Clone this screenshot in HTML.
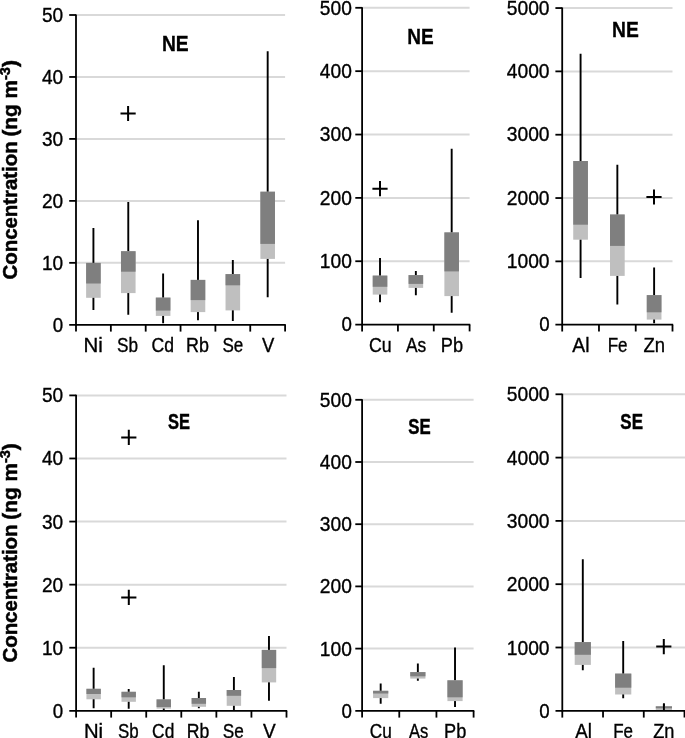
<!DOCTYPE html>
<html lang="en"><head><meta charset="utf-8"><title>Concentration box plots NE / SE</title>
<style>
html,body{margin:0;padding:0;background:#fff;overflow:hidden}
svg{display:block;will-change:transform;font-kerning:none;font-family:"Liberation Sans",sans-serif;fill:#000}
</style></head><body>
<svg width="685" height="738" viewBox="0 0 685 738">
<rect x="0" y="0" width="685" height="738" fill="#fff"/>
<line x1="76.0" y1="262.84" x2="285.10" y2="262.84" stroke="#d9d9d9" stroke-width="2.0"/>
<line x1="76.0" y1="200.88" x2="285.10" y2="200.88" stroke="#d9d9d9" stroke-width="2.0"/>
<line x1="76.0" y1="138.92" x2="285.10" y2="138.92" stroke="#d9d9d9" stroke-width="2.0"/>
<line x1="76.0" y1="76.96" x2="285.10" y2="76.96" stroke="#d9d9d9" stroke-width="2.0"/>
<line x1="76.0" y1="15.00" x2="285.10" y2="15.00" stroke="#d9d9d9" stroke-width="2.0"/>
<path d="M93.42 228.10V263.40M93.42 297.30V310.00" stroke="#000" stroke-width="1.9" fill="none"/>
<rect x="86.12" y="262.90" width="14.60" height="34.90" fill="#bfbfbf"/>
<rect x="86.12" y="262.90" width="14.60" height="20.60" fill="#7f7f7f"/>
<path d="M128.28 202.00V251.70M128.28 292.60V314.70" stroke="#000" stroke-width="1.9" fill="none"/>
<rect x="120.98" y="251.20" width="14.60" height="41.90" fill="#bfbfbf"/>
<rect x="120.98" y="251.20" width="14.60" height="20.50" fill="#7f7f7f"/>
<path d="M163.12 273.60V298.10M163.12 315.40V323.20" stroke="#000" stroke-width="1.9" fill="none"/>
<rect x="155.82" y="297.60" width="14.60" height="18.30" fill="#bfbfbf"/>
<rect x="155.82" y="297.60" width="14.60" height="13.00" fill="#7f7f7f"/>
<path d="M197.98 220.20V280.40M197.98 311.60V320.20" stroke="#000" stroke-width="1.9" fill="none"/>
<rect x="190.68" y="279.90" width="14.60" height="32.20" fill="#bfbfbf"/>
<rect x="190.68" y="279.90" width="14.60" height="20.20" fill="#7f7f7f"/>
<path d="M232.83 259.90V274.60M232.83 309.90V320.90" stroke="#000" stroke-width="1.9" fill="none"/>
<rect x="225.53" y="274.10" width="14.60" height="36.30" fill="#bfbfbf"/>
<rect x="225.53" y="274.10" width="14.60" height="11.20" fill="#7f7f7f"/>
<path d="M267.68 51.20V192.20M267.68 258.40V297.20" stroke="#000" stroke-width="1.9" fill="none"/>
<rect x="260.38" y="191.70" width="14.60" height="67.20" fill="#bfbfbf"/>
<rect x="260.38" y="191.70" width="14.60" height="52.20" fill="#7f7f7f"/>
<path d="M120.50 113.50H135.70M128.10 105.90V121.10" stroke="#000" stroke-width="2.0" fill="none"/>
<line x1="76.0" y1="14.40" x2="76.0" y2="325.45" stroke="#000" stroke-width="1.8"/>
<line x1="69.2" y1="324.80" x2="285.75" y2="324.80" stroke="#000" stroke-width="1.8"/>
<line x1="69.2" y1="262.84" x2="76.0" y2="262.84" stroke="#000" stroke-width="1.8"/>
<line x1="69.2" y1="200.88" x2="76.0" y2="200.88" stroke="#000" stroke-width="1.8"/>
<line x1="69.2" y1="138.92" x2="76.0" y2="138.92" stroke="#000" stroke-width="1.8"/>
<line x1="69.2" y1="76.96" x2="76.0" y2="76.96" stroke="#000" stroke-width="1.8"/>
<line x1="69.2" y1="15.00" x2="76.0" y2="15.00" stroke="#000" stroke-width="1.8"/>
<line x1="76.00" y1="324.80" x2="76.00" y2="331.60" stroke="#000" stroke-width="1.8"/>
<line x1="110.85" y1="324.80" x2="110.85" y2="331.60" stroke="#000" stroke-width="1.8"/>
<line x1="145.70" y1="324.80" x2="145.70" y2="331.60" stroke="#000" stroke-width="1.8"/>
<line x1="180.55" y1="324.80" x2="180.55" y2="331.60" stroke="#000" stroke-width="1.8"/>
<line x1="215.40" y1="324.80" x2="215.40" y2="331.60" stroke="#000" stroke-width="1.8"/>
<line x1="250.25" y1="324.80" x2="250.25" y2="331.60" stroke="#000" stroke-width="1.8"/>
<line x1="285.10" y1="324.80" x2="285.10" y2="331.60" stroke="#000" stroke-width="1.8"/>
<text transform="translate(52.75,331.50) scale(0.9367,1)" font-size="20.0" stroke="#000" stroke-width="0.35">0</text>
<text transform="translate(41.95,269.54) scale(0.9542,1)" font-size="20.0" stroke="#000" stroke-width="0.35">10</text>
<text transform="translate(41.94,207.58) scale(0.9546,1)" font-size="20.0" stroke="#000" stroke-width="0.35">20</text>
<text transform="translate(41.94,145.62) scale(0.9548,1)" font-size="20.0" stroke="#000" stroke-width="0.35">30</text>
<text transform="translate(41.93,83.66) scale(0.9550,1)" font-size="20.0" stroke="#000" stroke-width="0.35">40</text>
<text transform="translate(41.94,21.70) scale(0.9548,1)" font-size="20.0" stroke="#000" stroke-width="0.35">50</text>
<text transform="translate(83.55,351.50) scale(1.0216,1)" font-size="20.0" stroke="#000" stroke-width="0.35">Ni</text>
<text transform="translate(117.02,351.50) scale(0.8584,1)" font-size="20.0" stroke="#000" stroke-width="0.35">Sb</text>
<text transform="translate(151.61,351.50) scale(0.8809,1)" font-size="20.0" stroke="#000" stroke-width="0.35">Cd</text>
<text transform="translate(186.04,351.50) scale(0.8961,1)" font-size="20.0" stroke="#000" stroke-width="0.35">Rb</text>
<text transform="translate(222.43,351.50) scale(0.8516,1)" font-size="20.0" stroke="#000" stroke-width="0.35">Se</text>
<text transform="translate(261.93,351.50) scale(0.9250,1)" font-size="20.0" stroke="#000" stroke-width="0.35">V</text>
<text transform="translate(161.90,51.20) scale(0.8964,1)" font-size="21.5" font-weight="700" stroke="#000" stroke-width="0.3">NE</text>
<line x1="362.1" y1="261.24" x2="469.60" y2="261.24" stroke="#d9d9d9" stroke-width="2.0"/>
<line x1="362.1" y1="197.88" x2="469.60" y2="197.88" stroke="#d9d9d9" stroke-width="2.0"/>
<line x1="362.1" y1="134.52" x2="469.60" y2="134.52" stroke="#d9d9d9" stroke-width="2.0"/>
<line x1="362.1" y1="71.16" x2="469.60" y2="71.16" stroke="#d9d9d9" stroke-width="2.0"/>
<line x1="362.1" y1="7.80" x2="469.60" y2="7.80" stroke="#d9d9d9" stroke-width="2.0"/>
<path d="M380.02 258.10V276.10M380.02 294.10V302.20" stroke="#000" stroke-width="1.9" fill="none"/>
<rect x="372.72" y="275.60" width="14.60" height="19.00" fill="#bfbfbf"/>
<rect x="372.72" y="275.60" width="14.60" height="11.20" fill="#7f7f7f"/>
<path d="M415.85 271.10V275.60M415.85 287.40V295.20" stroke="#000" stroke-width="1.9" fill="none"/>
<rect x="408.55" y="275.10" width="14.60" height="12.80" fill="#bfbfbf"/>
<rect x="408.55" y="275.10" width="14.60" height="8.80" fill="#7f7f7f"/>
<path d="M451.68 148.80V232.90M451.68 295.60V312.70" stroke="#000" stroke-width="1.9" fill="none"/>
<rect x="444.38" y="232.40" width="14.60" height="63.70" fill="#bfbfbf"/>
<rect x="444.38" y="232.40" width="14.60" height="39.00" fill="#7f7f7f"/>
<path d="M372.40 188.70H387.60M380.00 181.10V196.30" stroke="#000" stroke-width="2.0" fill="none"/>
<line x1="362.1" y1="7.20" x2="362.1" y2="325.25" stroke="#000" stroke-width="1.8"/>
<line x1="355.3" y1="324.60" x2="470.25" y2="324.60" stroke="#000" stroke-width="1.8"/>
<line x1="355.3" y1="261.24" x2="362.1" y2="261.24" stroke="#000" stroke-width="1.8"/>
<line x1="355.3" y1="197.88" x2="362.1" y2="197.88" stroke="#000" stroke-width="1.8"/>
<line x1="355.3" y1="134.52" x2="362.1" y2="134.52" stroke="#000" stroke-width="1.8"/>
<line x1="355.3" y1="71.16" x2="362.1" y2="71.16" stroke="#000" stroke-width="1.8"/>
<line x1="355.3" y1="7.80" x2="362.1" y2="7.80" stroke="#000" stroke-width="1.8"/>
<line x1="362.10" y1="324.60" x2="362.10" y2="331.40" stroke="#000" stroke-width="1.8"/>
<line x1="397.93" y1="324.60" x2="397.93" y2="331.40" stroke="#000" stroke-width="1.8"/>
<line x1="433.77" y1="324.60" x2="433.77" y2="331.40" stroke="#000" stroke-width="1.8"/>
<line x1="469.60" y1="324.60" x2="469.60" y2="331.40" stroke="#000" stroke-width="1.8"/>
<text transform="translate(341.45,331.30) scale(0.9367,1)" font-size="20.0" stroke="#000" stroke-width="0.35">0</text>
<text transform="translate(319.84,267.94) scale(0.9601,1)" font-size="20.0" stroke="#000" stroke-width="0.35">100</text>
<text transform="translate(319.84,204.58) scale(0.9603,1)" font-size="20.0" stroke="#000" stroke-width="0.35">200</text>
<text transform="translate(319.83,141.22) scale(0.9604,1)" font-size="20.0" stroke="#000" stroke-width="0.35">300</text>
<text transform="translate(319.83,77.86) scale(0.9605,1)" font-size="20.0" stroke="#000" stroke-width="0.35">400</text>
<text transform="translate(319.84,14.50) scale(0.9604,1)" font-size="20.0" stroke="#000" stroke-width="0.35">500</text>
<text transform="translate(368.90,351.50) scale(0.8866,1)" font-size="20.0" stroke="#000" stroke-width="0.35">Cu</text>
<text transform="translate(405.97,351.50) scale(0.8679,1)" font-size="20.0" stroke="#000" stroke-width="0.35">As</text>
<text transform="translate(440.82,351.50) scale(0.9090,1)" font-size="20.0" stroke="#000" stroke-width="0.35">Pb</text>
<text transform="translate(407.31,44.40) scale(0.8857,1)" font-size="21.5" font-weight="700" stroke="#000" stroke-width="0.3">NE</text>
<line x1="562.2" y1="261.37" x2="672.50" y2="261.37" stroke="#d9d9d9" stroke-width="2.0"/>
<line x1="562.2" y1="198.04" x2="672.50" y2="198.04" stroke="#d9d9d9" stroke-width="2.0"/>
<line x1="562.2" y1="134.71" x2="672.50" y2="134.71" stroke="#d9d9d9" stroke-width="2.0"/>
<line x1="562.2" y1="71.38" x2="672.50" y2="71.38" stroke="#d9d9d9" stroke-width="2.0"/>
<line x1="562.2" y1="8.05" x2="672.50" y2="8.05" stroke="#d9d9d9" stroke-width="2.0"/>
<path d="M580.58 53.70V161.50M580.58 239.20V278.00" stroke="#000" stroke-width="1.9" fill="none"/>
<rect x="573.23" y="161.00" width="14.70" height="78.70" fill="#bfbfbf"/>
<rect x="573.23" y="161.00" width="14.70" height="63.70" fill="#7f7f7f"/>
<path d="M617.35 164.80V215.00M617.35 275.40V304.50" stroke="#000" stroke-width="1.9" fill="none"/>
<rect x="610.00" y="214.50" width="14.70" height="61.40" fill="#bfbfbf"/>
<rect x="610.00" y="214.50" width="14.70" height="31.40" fill="#7f7f7f"/>
<path d="M654.12 267.40V295.60M654.12 319.10V323.20" stroke="#000" stroke-width="1.9" fill="none"/>
<rect x="646.77" y="295.10" width="14.70" height="24.50" fill="#bfbfbf"/>
<rect x="646.77" y="295.10" width="14.70" height="17.20" fill="#7f7f7f"/>
<path d="M646.40 197.00H661.60M654.00 189.40V204.60" stroke="#000" stroke-width="2.0" fill="none"/>
<line x1="562.2" y1="7.45" x2="562.2" y2="325.35" stroke="#000" stroke-width="1.8"/>
<line x1="555.4000000000001" y1="324.70" x2="673.15" y2="324.70" stroke="#000" stroke-width="1.8"/>
<line x1="555.4000000000001" y1="261.37" x2="562.2" y2="261.37" stroke="#000" stroke-width="1.8"/>
<line x1="555.4000000000001" y1="198.04" x2="562.2" y2="198.04" stroke="#000" stroke-width="1.8"/>
<line x1="555.4000000000001" y1="134.71" x2="562.2" y2="134.71" stroke="#000" stroke-width="1.8"/>
<line x1="555.4000000000001" y1="71.38" x2="562.2" y2="71.38" stroke="#000" stroke-width="1.8"/>
<line x1="555.4000000000001" y1="8.05" x2="562.2" y2="8.05" stroke="#000" stroke-width="1.8"/>
<line x1="562.20" y1="324.70" x2="562.20" y2="331.50" stroke="#000" stroke-width="1.8"/>
<line x1="598.97" y1="324.70" x2="598.97" y2="331.50" stroke="#000" stroke-width="1.8"/>
<line x1="635.73" y1="324.70" x2="635.73" y2="331.50" stroke="#000" stroke-width="1.8"/>
<line x1="672.50" y1="324.70" x2="672.50" y2="331.50" stroke="#000" stroke-width="1.8"/>
<text transform="translate(539.15,331.40) scale(0.9367,1)" font-size="20.0" stroke="#000" stroke-width="0.35">0</text>
<text transform="translate(506.74,268.07) scale(0.9630,1)" font-size="20.0" stroke="#000" stroke-width="0.35">1000</text>
<text transform="translate(506.74,204.74) scale(0.9631,1)" font-size="20.0" stroke="#000" stroke-width="0.35">2000</text>
<text transform="translate(506.73,141.41) scale(0.9631,1)" font-size="20.0" stroke="#000" stroke-width="0.35">3000</text>
<text transform="translate(506.73,78.08) scale(0.9632,1)" font-size="20.0" stroke="#000" stroke-width="0.35">4000</text>
<text transform="translate(506.73,14.75) scale(0.9631,1)" font-size="20.0" stroke="#000" stroke-width="0.35">5000</text>
<text transform="translate(572.28,351.50) scale(0.9668,1)" font-size="20.0" stroke="#000" stroke-width="0.35">Al</text>
<text transform="translate(607.70,351.50) scale(0.8506,1)" font-size="20.0" stroke="#000" stroke-width="0.35">Fe</text>
<text transform="translate(643.43,351.50) scale(0.9239,1)" font-size="20.0" stroke="#000" stroke-width="0.35">Zn</text>
<text transform="translate(612.10,37.40) scale(0.8964,1)" font-size="21.5" font-weight="700" stroke="#000" stroke-width="0.3">NE</text>
<line x1="76.1" y1="647.72" x2="286.50" y2="647.72" stroke="#d9d9d9" stroke-width="2.0"/>
<line x1="76.1" y1="584.64" x2="286.50" y2="584.64" stroke="#d9d9d9" stroke-width="2.0"/>
<line x1="76.1" y1="521.56" x2="286.50" y2="521.56" stroke="#d9d9d9" stroke-width="2.0"/>
<line x1="76.1" y1="458.48" x2="286.50" y2="458.48" stroke="#d9d9d9" stroke-width="2.0"/>
<line x1="76.1" y1="395.40" x2="286.50" y2="395.40" stroke="#d9d9d9" stroke-width="2.0"/>
<path d="M93.63 667.80V689.30M93.63 698.80V708.20" stroke="#000" stroke-width="1.9" fill="none"/>
<rect x="86.43" y="688.80" width="14.40" height="10.50" fill="#bfbfbf"/>
<rect x="86.43" y="688.80" width="14.40" height="5.20" fill="#7f7f7f"/>
<path d="M128.70 689.00V692.30M128.70 701.30V708.70" stroke="#000" stroke-width="1.9" fill="none"/>
<rect x="121.50" y="691.80" width="14.40" height="10.00" fill="#bfbfbf"/>
<rect x="121.50" y="691.80" width="14.40" height="5.50" fill="#7f7f7f"/>
<path d="M163.77 665.30V699.90M163.77 708.10V710.20" stroke="#000" stroke-width="1.9" fill="none"/>
<rect x="156.57" y="699.40" width="14.40" height="9.20" fill="#bfbfbf"/>
<rect x="156.57" y="699.40" width="14.40" height="7.60" fill="#7f7f7f"/>
<path d="M198.83 691.80V698.50M198.83 706.30V708.20" stroke="#000" stroke-width="1.9" fill="none"/>
<rect x="191.63" y="698.00" width="14.40" height="8.80" fill="#bfbfbf"/>
<rect x="191.63" y="698.00" width="14.40" height="5.80" fill="#7f7f7f"/>
<path d="M233.90 677.10V690.50M233.90 705.30V709.90" stroke="#000" stroke-width="1.9" fill="none"/>
<rect x="226.70" y="690.00" width="14.40" height="15.80" fill="#bfbfbf"/>
<rect x="226.70" y="690.00" width="14.40" height="5.80" fill="#7f7f7f"/>
<path d="M268.97 635.90V650.40M268.97 681.90V700.70" stroke="#000" stroke-width="1.9" fill="none"/>
<rect x="261.77" y="649.90" width="14.40" height="32.50" fill="#bfbfbf"/>
<rect x="261.77" y="649.90" width="14.40" height="18.20" fill="#7f7f7f"/>
<path d="M121.20 437.40H136.40M128.80 429.80V445.00" stroke="#000" stroke-width="2.0" fill="none"/>
<path d="M121.20 597.40H136.40M128.80 589.80V605.00" stroke="#000" stroke-width="2.0" fill="none"/>
<line x1="76.1" y1="394.80" x2="76.1" y2="711.45" stroke="#000" stroke-width="1.8"/>
<line x1="69.3" y1="710.80" x2="287.15" y2="710.80" stroke="#000" stroke-width="1.8"/>
<line x1="69.3" y1="647.72" x2="76.1" y2="647.72" stroke="#000" stroke-width="1.8"/>
<line x1="69.3" y1="584.64" x2="76.1" y2="584.64" stroke="#000" stroke-width="1.8"/>
<line x1="69.3" y1="521.56" x2="76.1" y2="521.56" stroke="#000" stroke-width="1.8"/>
<line x1="69.3" y1="458.48" x2="76.1" y2="458.48" stroke="#000" stroke-width="1.8"/>
<line x1="69.3" y1="395.40" x2="76.1" y2="395.40" stroke="#000" stroke-width="1.8"/>
<line x1="76.10" y1="710.80" x2="76.10" y2="717.60" stroke="#000" stroke-width="1.8"/>
<line x1="111.17" y1="710.80" x2="111.17" y2="717.60" stroke="#000" stroke-width="1.8"/>
<line x1="146.23" y1="710.80" x2="146.23" y2="717.60" stroke="#000" stroke-width="1.8"/>
<line x1="181.30" y1="710.80" x2="181.30" y2="717.60" stroke="#000" stroke-width="1.8"/>
<line x1="216.37" y1="710.80" x2="216.37" y2="717.60" stroke="#000" stroke-width="1.8"/>
<line x1="251.43" y1="710.80" x2="251.43" y2="717.60" stroke="#000" stroke-width="1.8"/>
<line x1="286.50" y1="710.80" x2="286.50" y2="717.60" stroke="#000" stroke-width="1.8"/>
<text transform="translate(52.75,717.80) scale(0.9367,1)" font-size="20.0" stroke="#000" stroke-width="0.35">0</text>
<text transform="translate(41.95,654.72) scale(0.9542,1)" font-size="20.0" stroke="#000" stroke-width="0.35">10</text>
<text transform="translate(41.94,591.64) scale(0.9546,1)" font-size="20.0" stroke="#000" stroke-width="0.35">20</text>
<text transform="translate(41.94,528.56) scale(0.9548,1)" font-size="20.0" stroke="#000" stroke-width="0.35">30</text>
<text transform="translate(41.93,465.48) scale(0.9550,1)" font-size="20.0" stroke="#000" stroke-width="0.35">40</text>
<text transform="translate(41.94,402.40) scale(0.9548,1)" font-size="20.0" stroke="#000" stroke-width="0.35">50</text>
<text transform="translate(83.96,737.90) scale(1.0155,1)" font-size="20.0" stroke="#000" stroke-width="0.35">Ni</text>
<text transform="translate(118.03,737.90) scale(0.8454,1)" font-size="20.0" stroke="#000" stroke-width="0.35">Sb</text>
<text transform="translate(152.12,737.90) scale(0.8682,1)" font-size="20.0" stroke="#000" stroke-width="0.35">Cd</text>
<text transform="translate(186.76,737.90) scale(0.8833,1)" font-size="20.0" stroke="#000" stroke-width="0.35">Rb</text>
<text transform="translate(222.82,737.90) scale(0.8603,1)" font-size="20.0" stroke="#000" stroke-width="0.35">Se</text>
<text transform="translate(262.93,737.90) scale(0.9546,1)" font-size="20.0" stroke="#000" stroke-width="0.35">V</text>
<text transform="translate(168.05,429.30) scale(0.7661,1)" font-size="21.5" font-weight="700" stroke="#000" stroke-width="0.45">SE</text>
<line x1="362.1" y1="648.60" x2="473.60" y2="648.60" stroke="#d9d9d9" stroke-width="2.0"/>
<line x1="362.1" y1="586.40" x2="473.60" y2="586.40" stroke="#d9d9d9" stroke-width="2.0"/>
<line x1="362.1" y1="524.20" x2="473.60" y2="524.20" stroke="#d9d9d9" stroke-width="2.0"/>
<line x1="362.1" y1="462.00" x2="473.60" y2="462.00" stroke="#d9d9d9" stroke-width="2.0"/>
<line x1="362.1" y1="399.80" x2="473.60" y2="399.80" stroke="#d9d9d9" stroke-width="2.0"/>
<path d="M380.68 683.60V691.30M380.68 697.60V703.70" stroke="#000" stroke-width="1.9" fill="none"/>
<rect x="373.08" y="690.80" width="15.20" height="7.30" fill="#bfbfbf"/>
<rect x="373.08" y="690.80" width="15.20" height="2.70" fill="#7f7f7f"/>
<path d="M417.85 663.60V672.60M417.85 678.10V680.70" stroke="#000" stroke-width="1.9" fill="none"/>
<rect x="410.25" y="672.10" width="15.20" height="6.50" fill="#bfbfbf"/>
<rect x="410.25" y="672.10" width="15.20" height="4.20" fill="#7f7f7f"/>
<path d="M455.02 647.40V680.80M455.02 700.60V706.90" stroke="#000" stroke-width="1.9" fill="none"/>
<rect x="447.42" y="680.30" width="15.20" height="20.80" fill="#bfbfbf"/>
<rect x="447.42" y="680.30" width="15.20" height="17.00" fill="#7f7f7f"/>
<line x1="362.1" y1="399.20" x2="362.1" y2="711.45" stroke="#000" stroke-width="1.8"/>
<line x1="355.3" y1="710.80" x2="474.25" y2="710.80" stroke="#000" stroke-width="1.8"/>
<line x1="355.3" y1="648.60" x2="362.1" y2="648.60" stroke="#000" stroke-width="1.8"/>
<line x1="355.3" y1="586.40" x2="362.1" y2="586.40" stroke="#000" stroke-width="1.8"/>
<line x1="355.3" y1="524.20" x2="362.1" y2="524.20" stroke="#000" stroke-width="1.8"/>
<line x1="355.3" y1="462.00" x2="362.1" y2="462.00" stroke="#000" stroke-width="1.8"/>
<line x1="355.3" y1="399.80" x2="362.1" y2="399.80" stroke="#000" stroke-width="1.8"/>
<line x1="362.10" y1="710.80" x2="362.10" y2="717.60" stroke="#000" stroke-width="1.8"/>
<line x1="399.27" y1="710.80" x2="399.27" y2="717.60" stroke="#000" stroke-width="1.8"/>
<line x1="436.43" y1="710.80" x2="436.43" y2="717.60" stroke="#000" stroke-width="1.8"/>
<line x1="473.60" y1="710.80" x2="473.60" y2="717.60" stroke="#000" stroke-width="1.8"/>
<text transform="translate(341.45,717.80) scale(0.9367,1)" font-size="20.0" stroke="#000" stroke-width="0.35">0</text>
<text transform="translate(319.84,655.60) scale(0.9601,1)" font-size="20.0" stroke="#000" stroke-width="0.35">100</text>
<text transform="translate(319.84,593.40) scale(0.9603,1)" font-size="20.0" stroke="#000" stroke-width="0.35">200</text>
<text transform="translate(319.83,531.20) scale(0.9604,1)" font-size="20.0" stroke="#000" stroke-width="0.35">300</text>
<text transform="translate(319.83,469.00) scale(0.9605,1)" font-size="20.0" stroke="#000" stroke-width="0.35">400</text>
<text transform="translate(319.84,406.80) scale(0.9604,1)" font-size="20.0" stroke="#000" stroke-width="0.35">500</text>
<text transform="translate(369.73,737.90) scale(0.8612,1)" font-size="20.0" stroke="#000" stroke-width="0.35">Cu</text>
<text transform="translate(409.06,737.90) scale(0.8287,1)" font-size="20.0" stroke="#000" stroke-width="0.35">As</text>
<text transform="translate(444.02,737.90) scale(0.9090,1)" font-size="20.0" stroke="#000" stroke-width="0.35">Pb</text>
<text transform="translate(408.34,434.40) scale(0.7806,1)" font-size="21.5" font-weight="700" stroke="#000" stroke-width="0.45">SE</text>
<line x1="562.3" y1="647.50" x2="686.00" y2="647.50" stroke="#d9d9d9" stroke-width="2.0"/>
<line x1="562.3" y1="584.20" x2="686.00" y2="584.20" stroke="#d9d9d9" stroke-width="2.0"/>
<line x1="562.3" y1="520.90" x2="686.00" y2="520.90" stroke="#d9d9d9" stroke-width="2.0"/>
<line x1="562.3" y1="457.60" x2="686.00" y2="457.60" stroke="#d9d9d9" stroke-width="2.0"/>
<line x1="562.3" y1="394.30" x2="686.00" y2="394.30" stroke="#d9d9d9" stroke-width="2.0"/>
<path d="M582.80 559.20V642.60M582.80 664.40V670.20" stroke="#000" stroke-width="1.9" fill="none"/>
<rect x="574.70" y="642.10" width="16.20" height="22.80" fill="#bfbfbf"/>
<rect x="574.70" y="642.10" width="16.20" height="12.70" fill="#7f7f7f"/>
<path d="M623.20 640.90V674.10M623.20 694.00V698.20" stroke="#000" stroke-width="1.9" fill="none"/>
<rect x="615.10" y="673.60" width="16.20" height="20.90" fill="#bfbfbf"/>
<rect x="615.10" y="673.60" width="16.20" height="14.10" fill="#7f7f7f"/>
<path d="M663.90 703.50V706.80M663.90 709.60V710.40" stroke="#000" stroke-width="1.9" fill="none"/>
<rect x="655.80" y="706.30" width="16.20" height="3.80" fill="#bfbfbf"/>
<rect x="655.80" y="706.30" width="16.20" height="2.00" fill="#7f7f7f"/>
<path d="M663.90 703.50V710.40" stroke="#000" stroke-width="1.9" fill="none"/>
<path d="M656.20 646.60H671.40M663.80 639.00V654.20" stroke="#000" stroke-width="2.0" fill="none"/>
<line x1="562.3" y1="393.70" x2="562.3" y2="711.45" stroke="#000" stroke-width="1.8"/>
<line x1="555.5" y1="710.80" x2="686.65" y2="710.80" stroke="#000" stroke-width="1.8"/>
<line x1="555.5" y1="647.50" x2="562.3" y2="647.50" stroke="#000" stroke-width="1.8"/>
<line x1="555.5" y1="584.20" x2="562.3" y2="584.20" stroke="#000" stroke-width="1.8"/>
<line x1="555.5" y1="520.90" x2="562.3" y2="520.90" stroke="#000" stroke-width="1.8"/>
<line x1="555.5" y1="457.60" x2="562.3" y2="457.60" stroke="#000" stroke-width="1.8"/>
<line x1="555.5" y1="394.30" x2="562.3" y2="394.30" stroke="#000" stroke-width="1.8"/>
<line x1="562.30" y1="710.80" x2="562.30" y2="717.60" stroke="#000" stroke-width="1.8"/>
<line x1="603.03" y1="710.80" x2="603.03" y2="717.60" stroke="#000" stroke-width="1.8"/>
<line x1="643.77" y1="710.80" x2="643.77" y2="717.60" stroke="#000" stroke-width="1.8"/>
<line x1="684.50" y1="710.80" x2="684.50" y2="717.60" stroke="#000" stroke-width="1.8"/>
<text transform="translate(539.15,717.80) scale(0.9367,1)" font-size="20.0" stroke="#000" stroke-width="0.35">0</text>
<text transform="translate(506.74,654.50) scale(0.9630,1)" font-size="20.0" stroke="#000" stroke-width="0.35">1000</text>
<text transform="translate(506.74,591.20) scale(0.9631,1)" font-size="20.0" stroke="#000" stroke-width="0.35">2000</text>
<text transform="translate(506.73,527.90) scale(0.9631,1)" font-size="20.0" stroke="#000" stroke-width="0.35">3000</text>
<text transform="translate(506.73,464.60) scale(0.9632,1)" font-size="20.0" stroke="#000" stroke-width="0.35">4000</text>
<text transform="translate(506.73,401.30) scale(0.9631,1)" font-size="20.0" stroke="#000" stroke-width="0.35">5000</text>
<text transform="translate(575.18,737.90) scale(0.9370,1)" font-size="20.0" stroke="#000" stroke-width="0.35">Al</text>
<text transform="translate(613.20,737.90) scale(0.8506,1)" font-size="20.0" stroke="#000" stroke-width="0.35">Fe</text>
<text transform="translate(653.23,737.90) scale(0.9101,1)" font-size="20.0" stroke="#000" stroke-width="0.35">Zn</text>
<text transform="translate(620.34,429.40) scale(0.7878,1)" font-size="21.5" font-weight="700" stroke="#000" stroke-width="0.45">SE</text>
<text transform="translate(17.20,279.39) rotate(-90) scale(0.9891,1)" font-size="20.6" font-weight="700" stroke="#000" stroke-width="0.5">Concentration</text>
<text transform="translate(17.20,136.58) rotate(-90) scale(1.0095,1)" font-size="20.6" font-weight="700" stroke="#000" stroke-width="0.5">(ng m<tspan font-size="14.42" dy="-7.2">-3</tspan><tspan dy="7.2">)</tspan></text>
<text transform="translate(17.20,662.49) rotate(-90) scale(0.9891,1)" font-size="20.6" font-weight="700" stroke="#000" stroke-width="0.5">Concentration</text>
<text transform="translate(17.20,519.68) rotate(-90) scale(1.0095,1)" font-size="20.6" font-weight="700" stroke="#000" stroke-width="0.5">(ng m<tspan font-size="14.42" dy="-7.2">-3</tspan><tspan dy="7.2">)</tspan></text>
</svg>
</body></html>
